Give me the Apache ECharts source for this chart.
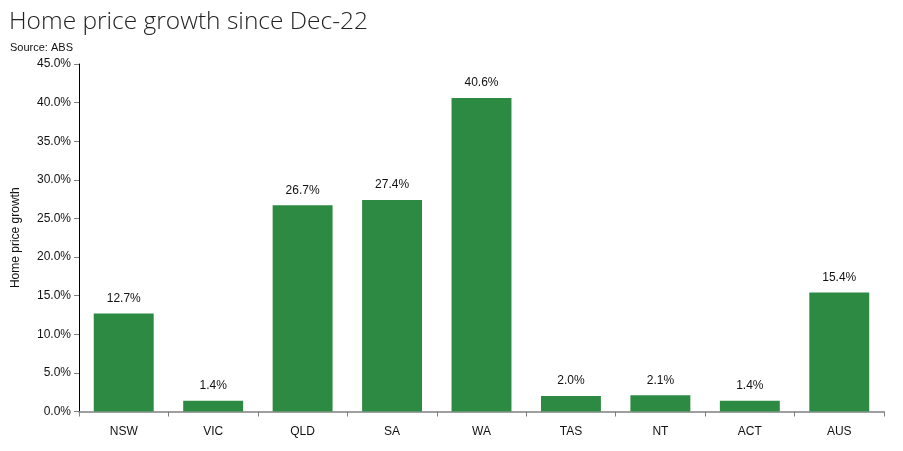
<!DOCTYPE html>
<html><head><meta charset="utf-8">
<script src="https://cdn.jsdelivr.net/npm/echarts@6/dist/echarts.min.js"></script>
<style>html,body{margin:0;padding:0;background:#fff}#c{width:903px;height:451px}</style>
</head><body><div id="c"></div>
<script>
const categories = ['NSW','VIC','QLD','SA','WA','TAS','NT','ACT','AUS'];
const growth = [12.7, 1.4, 26.7, 27.4, 40.6, 2.0, 2.1, 1.4, 15.4];
const yTicks = {min: 0, max: 45, interval: 5};

const chart = echarts.init(document.getElementById('c'));
chart.setOption({
  animation: false,
  title: [
    {text: 'Home price growth since Dec-22', left: 4, top: 5,
     textStyle: {fontFamily: 'Open Sans', fontWeight: 300, fontSize: 24.5, color: '#222'}},
    {text: 'Source: ABS', left: 5, top: 37,
     textStyle: {fontFamily: 'Liberation Sans Narrow, Liberation Sans', fontWeight: 'normal', fontSize: 11, color: '#111'}}
  ],
  grid: {left: 79, right: 19, top: 64, bottom: 39.5, outerBoundsMode: 'none', containLabel: false},
  xAxis: {
    type: 'category', data: categories,
    axisLine: {lineStyle: {color: '#808080', width: 1.5}},
    axisTick: {show: true, length: 5, lineStyle: {color: '#808080'}},
    axisLabel: {color: '#111', fontSize: 12, fontFamily: 'Liberation Sans', margin: 14}
  },
  yAxis: {
    type: 'value', min: yTicks.min, max: yTicks.max, interval: yTicks.interval,
    name: 'Home price growth', nameLocation: 'middle', nameGap: 57, nameRotate: 90,
    nameTextStyle: {color: '#111', fontSize: 12, fontFamily: 'Liberation Sans'},
    axisLine: {show: true, lineStyle: {color: '#000', width: 1}},
    axisTick: {show: true, length: 5, lineStyle: {color: '#808080'}},
    splitLine: {show: false},
    axisLabel: {color: '#111', fontSize: 12, fontFamily: 'Liberation Sans', margin: 8,
      formatter: v => v.toFixed(1) + '%'}
  },
  series: [{
    type: 'bar', data: growth, barWidth: '67%',
    itemStyle: {color: '#2d8a42'},
    label: {show: true, position: 'top', distance: 9, color: '#111', fontSize: 12,
      fontFamily: 'Liberation Sans', formatter: p => p.value.toFixed(1) + '%'}
  }]
});
</script></body></html>
